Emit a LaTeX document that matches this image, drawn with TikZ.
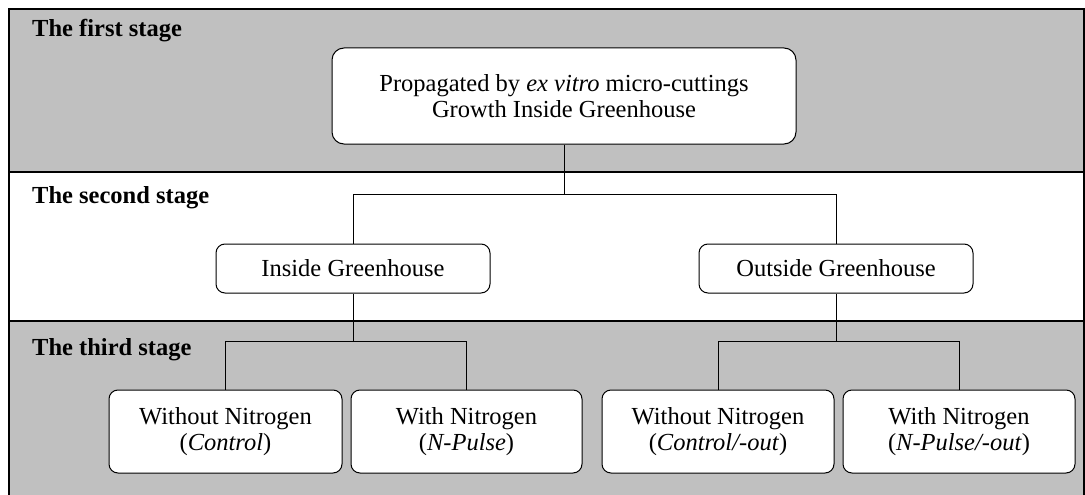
\documentclass[tikz,border=0pt]{standalone}
\usepackage{fontspec}
\setmainfont{Liberation Serif}
\usetikzlibrary{positioning,calc}
\definecolor{stagegray}{HTML}{C0C0C0}

\begin{document}
\begin{tikzpicture}[x=1pt,y=-1pt,
  box/.style={draw,fill=white,line width=1pt,rounded corners=9pt,align=center,inner sep=0pt,
    font=\fontsize{24.5}{26}\selectfont},
  stagelabel/.style={anchor=base west,inner sep=0pt,font=\fontsize{24.5}{26}\selectfont\bfseries},
  link/.style={line width=1pt}]
  \useasboundingbox (0,0) rectangle (1085,495);
  \fill[stagegray] (9,9) rectangle (1084,172); \fill[stagegray] (9,321) rectangle (1084,500);
  \draw[line width=1.2pt] (9,9) rectangle (1084,500);
  \draw[line width=1.2pt] (9,172) -- (1084,172); \draw[line width=1.2pt] (9,321) -- (1084,321);
  \node[stagelabel] (lab1) at (32,37) {The first stage};
  \node[stagelabel] (lab2) at (32,203) {The second stage};
  \node[stagelabel] (lab3) at (32,355) {The third stage};
  % first stage
  \node[box,rounded corners=12pt,minimum width=464pt,minimum height=96pt] (top) at (564,96)
    {Propagated by \emph{ex vitro} micro-cuttings\\Growth Inside Greenhouse};
  % second stage
  \node[box,minimum width=274pt,minimum height=49pt] (inside) at (353,268.5) {Inside Greenhouse};
  \node[box,minimum width=274pt,minimum height=49pt] (outside) at (836,268.5) {Outside Greenhouse};
  % third stage
  \node[box,minimum width=233pt,minimum height=83pt] (c1) at (225.5,431.5) {Without Nitrogen\\(\emph{Control})};
  \node[box,minimum width=231pt,minimum height=83pt] (c2) at (466.5,431.5) {With Nitrogen\\(\emph{N-Pulse})};
  \node[box,minimum width=232pt,minimum height=83pt] (c3) at (718,431.5) {Without Nitrogen\\(\emph{Control/-out})};
  \node[box,minimum width=232pt,minimum height=83pt] (c4) at (959,431.5) {With Nitrogen\\(\emph{N-Pulse/-out})};
  % connectors
  \coordinate (j1) at (564,194); \coordinate (j2) at (353,341); \coordinate (j3) at (836,341);
  \draw[link] (top) -- (j1); \draw[link] (j1) -| (inside); \draw[link] (j1) -| (outside);
  \draw[link] (inside) -- (j2); \draw[link] (j2) -| (c1); \draw[link] (j2) -| (c2);
  \draw[link] (outside) -- (j3); \draw[link] (j3) -| (c3); \draw[link] (j3) -| (c4);
\end{tikzpicture}
\end{document}
